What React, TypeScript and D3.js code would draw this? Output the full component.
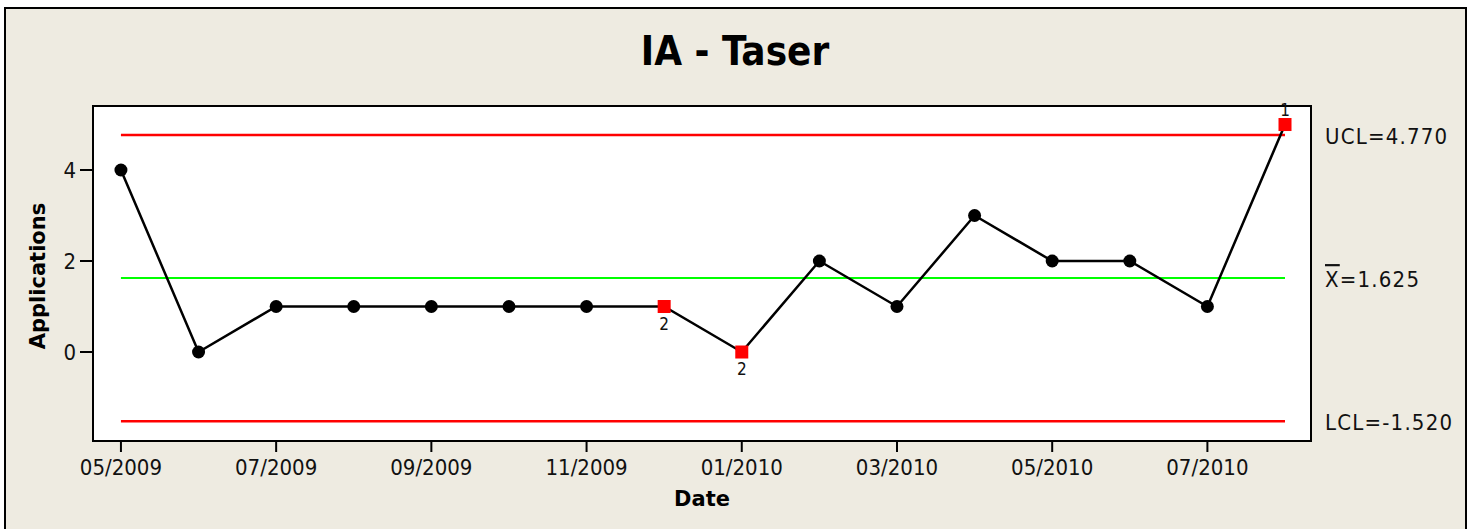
import React from 'react';
import * as d3 from 'd3';

const months = ["05/2009", "06/2009", "07/2009", "08/2009", "09/2009", "10/2009", "11/2009", "12/2009",
  "01/2010", "02/2010", "03/2010", "04/2010", "05/2010", "06/2010", "07/2010", "08/2010"];
const values = [4, 0, 1, 1, 1, 1, 1, 1, 0, 2, 1, 3, 2, 2, 1, 5];
// test failures reported by minitab (blank = none)
const flags = ["", "", "", "", "", "", "", "2", "2", "", "", "", "", "", "", "1"];
const yTicks = [0, 2, 4];
const ucl = 4.77;
const lcl = -1.52;
const mean = 1.625;

const W = 1473;
const H = 529;
const plot = { left: 93, right: 1311, top: 106, bottom: 441 };
const bg = '#EEEBE1';
const tickFont = '"DejaVu Sans Condensed", "DejaVu Sans", sans-serif';

export default function App() {
  const x = d3.scaleLinear().domain([-0.36, 15.335]).range([plot.left, plot.right]);
  const y = d3.scaleLinear().domain([-1.956, 5.407]).range([plot.bottom, plot.top]);

  const line = d3.line<number>()
    .x((d, i) => x(i))
    .y(d => y(d));

  const x0 = x(0), x1 = x(values.length - 1);

  const limits = [
    { v: ucl, color: '#FF0000', w: 2.5, label: <tspan>UCL=4.770</tspan> },
    { v: mean, color: '#00FF00', w: 2, label: <><tspan style={{ textDecoration: 'overline' }}>X</tspan><tspan>=1.625</tspan></> },
    { v: lcl, color: '#FF0000', w: 2.5, label: <tspan>LCL=-1.520</tspan> },
  ];

  return (
    <svg width={W} height={H} style={{ position: 'absolute', left: 0, top: 0, background: '#fff' }}>
      <rect x={5} y={8} width={1461} height={H} fill={bg} stroke="#000" strokeWidth={2} />
      <text x={735} y={65} textAnchor="middle" fontFamily={tickFont} fontWeight="bold" fontSize={40}>IA - Taser</text>

      <rect x={plot.left} y={plot.top} width={plot.right - plot.left} height={plot.bottom - plot.top}
        fill="#fff" stroke="#000" strokeWidth={2} />

      {limits.map((l, i) => (
        <g key={i}>
          <line x1={x0} x2={x1} y1={y(l.v)} y2={y(l.v)} stroke={l.color} strokeWidth={l.w} />
          <text x={1325} y={y(l.v) + 1} dominantBaseline="central" fontFamily={tickFont} fontSize={22}
            letterSpacing={1.2} fill="#111">{l.label}</text>
        </g>
      ))}

      <path d={line(values) || ''} fill="none" stroke="#000" strokeWidth={2.5} />

      {values.map((v, i) => flags[i] ? (
        <g key={i}>
          <rect x={x(i) - 6.5} y={y(v) - 6.5} width={13} height={13} fill="#FF0000" />
          <text x={x(i)} y={flags[i] === '1' ? y(v) - 9 : y(v) + 23} textAnchor="middle"
            fontFamily={tickFont} fontSize={17} fill="#111">{flags[i]}</text>
        </g>
      ) : (
        <circle key={i} cx={x(i)} cy={y(v)} r={6.5} fill="#000" />
      ))}

      {/* x axis */}
      {months.map((m, i) => i % 2 === 0 ? (
        <g key={m}>
          <line x1={x(i)} x2={x(i)} y1={plot.bottom} y2={plot.bottom + 11} stroke="#000" strokeWidth={2} />
          <text x={x(i)} y={plot.bottom + 34} textAnchor="middle" fontFamily={tickFont} fontSize={22} fill="#111">{m}</text>
        </g>
      ) : null)}
      <text x={(plot.left + plot.right) / 2} y={506} textAnchor="middle" fontFamily='"DejaVu Sans", sans-serif'
        fontWeight="bold" fontSize={21}>Date</text>

      {/* y axis */}
      {yTicks.map(t => (
        <g key={t}>
          <line x1={plot.left - 13} x2={plot.left} y1={y(t)} y2={y(t)} stroke="#000" strokeWidth={2} />
          <text x={plot.left - 17} y={y(t)} dominantBaseline="central" textAnchor="end" fontFamily={tickFont}
            fontSize={22} fill="#111">{t}</text>
        </g>
      ))}
      <text transform={`translate(45, ${(y(0) + 200) / 2}) rotate(-90)`} textAnchor="middle"
        fontFamily='"DejaVu Sans", sans-serif' fontWeight="bold" fontSize={21}>Applications</text>
    </svg>
  );
}
